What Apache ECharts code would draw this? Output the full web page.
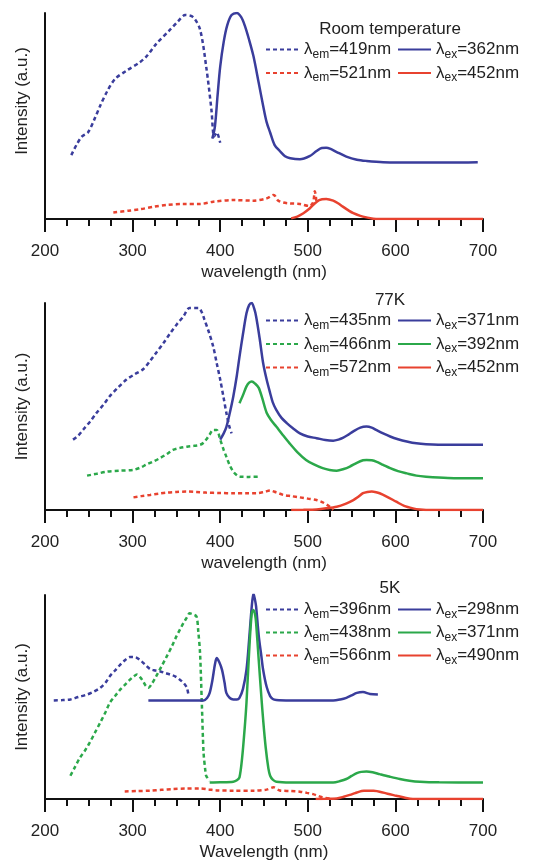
<!DOCTYPE html>
<html>
<head>
<meta charset="utf-8">
<script src="https://cdn.jsdelivr.net/npm/echarts@6/dist/echarts.min.js"></script>
<style>
html, body { margin: 0; padding: 0; background: #fff; }
#chart { width: 548px; height: 862px; }
</style>
</head>
<body>
<div id="chart"></div>
<script>
// x ticks
var xMin = 200, xMax = 700, xStep = 100;

// ---- Room temperature ----
var rtEmBlue = [[230,31],[236,36],[242,40],[249,42],[256,48],[263,55],[271,62],[280,68],[293,72],[308,76],[316,79],[327,85],[343,92],[352,96],[360,99],[369,98],[377,92],[384,74],[390,53],[393,40],[396,42],[400,37]];
var rtExBlue = [[391,39],[394,45],[397,60],[400,74],[404,86],[408,94],[413,99],[419,100],[424,98],[428,94],[433,87],[438,79],[444,66],[449,55],[453,47],[457,42],[462,36],[468,33],[474,30.5],[480,29.5],[491,29],[502,30.5],[510,33],[516,34.5],[521,34.6],[526,34],[533,32.5],[544,30.3],[556,28.8],[567,28.2],[586,27.6],[624,27.4],[660,27.4],[694,27.6]];
var rtEmRed = [[278,3.2],[295,4],[308,4.7],[325,6],[339,6.8],[358,7.3],[377,7.3],[392,8.4],[415,9.2],[438,8.9],[453,10],[461,11.7],[466,9],[472,8],[479,7.6],[491,7.3],[502,6.3],[506,8],[508,13.5],[510,8]];
var rtExRed = [[481,0.3],[488,1.2],[495,2.8],[501,4.7],[506,6.8],[513,9.2],[521,9.7],[529,8.9],[535,7.5],[540,6],[546,4.3],[552,2.8],[560,1.5],[567,0.8],[578,0],[600,0],[700,0]];

// ---- 77K ----
var k77EmBlue = [[232,34],[238,36],[244,39],[252,43],[259,47],[267,51],[274,55],[283,59],[293,63],[302,65.5],[312,68],[320,72],[327,76],[335,80.5],[343,85.5],[351,90],[358,93.5],[365,97.6],[375,97.6],[379,95.5],[382,92],[387,86],[392,79],[396,71],[400,63],[404,54],[407,47],[410,41],[413,37]];
var k77ExBlue = [[400,34],[404,37],[407,40],[411,47],[415,55],[419,65],[422,74],[426,85],[430,95],[433,99],[436,100],[439,97],[441,93.5],[445,83],[449,71],[453,63],[457,56.5],[460,52],[464,48.4],[470,44.5],[476,42],[483,39.5],[491,37],[500,35.5],[510,34.7],[520,33.8],[529,33.5],[535,34],[540,34.8],[546,36.3],[552,38],[560,39.8],[567,40.3],[573,39.8],[578,38.7],[586,37],[594,35.5],[603,34.2],[613,33.1],[624,32.2],[635,31.8],[660,31.5],[700,31.5]];
var k77EmGreen = [[248,16.6],[259,17.5],[270,18.5],[285,19],[301,19.4],[309,20.5],[316,22],[324,23.5],[331,25],[339,27],[346,29],[354,30],[362,30.6],[370,31],[377,31.5],[381,32.5],[384,34],[388,36.5],[392,38.7],[396,38.7],[400,34],[404,29],[407,25.8],[411,21.5],[415,18.5],[419,16.8],[422,16.1],[433,16],[445,16.1]];
var k77ExGreen = [[422,51.6],[426,55.5],[430,59.7],[433,61.5],[436,62.1],[440,61],[444,59],[448,54],[453,47],[458,43.5],[464,40.3],[471,36.5],[479,32.3],[488,28],[498,24.2],[507,22],[517,20.2],[525,19.3],[533,19],[541,19.8],[548,21],[556,22.8],[563,24],[567,24.2],[573,24],[578,23.4],[586,21.8],[594,20.2],[603,18.8],[613,17.7],[624,16.6],[635,16.1],[660,15.5],[700,15.3]];
var k77EmRed = [[301,6.1],[310,6.7],[320,7.3],[330,7.9],[339,8.4],[350,8.7],[362,8.9],[373,8.7],[384,8.4],[400,8.2],[415,8.1],[430,8.1],[441,8.1],[450,8.7],[457,9.4],[464,8.5],[472,7.3],[481,6.7],[491,6.1],[500,5.5],[510,4.8],[518,3.5],[525,1.6],[529,0]];
var k77ExRed = [[481,0],[495,0.1],[510,0.3],[521,0.8],[533,1.6],[543,3],[552,4.8],[558,6.5],[563,8.1],[568,8.7],[573,8.9],[578,8.6],[582,8.1],[590,6.5],[601,4],[610,2],[620,0.8],[628,0.2],[635,0],[700,0]];

// ---- 5K ----
var k5EmBlue = [[210,48.3],[220,48.5],[229,48.8],[238,50],[248,51.2],[256,52.7],[263,54.5],[269,57],[274,60.2],[280,63],[286,65.9],[292,68.3],[297,69.6],[303,69.5],[308,68.3],[314,66],[320,63.7],[326,63],[331,62.6],[337,61.8],[343,61],[349,60],[354,58.5],[359,56.5],[362,54.5],[364,50.4]];
var k5ExBlue = [[318,48.3],[350,48.3],[381,48.3],[385,49.5],[388,52],[391,58],[394,66],[396,69.1],[399,67],[402,63.4],[405,57],[407,52],[411,49.5],[415,48.8],[419,48.8],[422,49.6],[426,54],[430,63.4],[433,78],[436,94.3],[438,100.8],[440,97],[441,94.3],[444,80],[447,70],[449,63.4],[453,55],[457,50.4],[460,49],[464,48.5],[480,48.3],[510,48.3],[529,48.3],[537,48.8],[544,49.6],[550,50.8],[556,52],[563,52.4],[571,51.5],[580,51.2]];
var k5EmGreen = [[229,11.4],[234,15.5],[240,20.3],[246,24],[251,27.6],[257,32.5],[263,37.4],[269,42.5],[274,47.2],[280,50.5],[286,53.7],[292,56.3],[297,58.5],[301,60],[305,61],[309,59.5],[312,57.7],[315,55.5],[318,54.5],[322,56.5],[327,60.2],[333,65],[339,69.9],[345,75],[350,79.7],[354,83],[358,86.2],[362,89],[365,91],[369,90.5],[373,89.4],[375,82],[377,71.5],[379,47.2],[381,22.8],[383,14],[384,11.4],[388,8.9]];
var k5ExGreen = [[388,8.1],[400,8.2],[415,8.5],[419,9.2],[422,10.6],[425,20],[428,35],[430,47.2],[433,72],[436,91],[438,92.7],[440,90],[441,86.2],[444,68],[447,50],[449,39],[452,25],[455,15],[457,11.4],[460,9.5],[464,8.5],[480,8.1],[500,8.1],[529,8.1],[537,8.8],[544,9.8],[550,11.3],[556,12.7],[561,13.3],[567,13.5],[574,13.1],[582,12.2],[593,11],[605,9.8],[616,9],[628,8.5],[650,8.2],[700,8.1]];
var k5EmRed = [[291,3.7],[305,3.9],[320,4.1],[333,4.5],[346,4.9],[360,5.1],[377,5.2],[387,4.7],[396,4.2],[415,4.1],[438,4.1],[453,4.6],[461,5.7],[468,4.2],[480,3.9],[491,3.6],[499,3],[506,2.4],[512,1.5],[517,0.8],[529,0]];
var k5ExRed = [[509,0],[520,0.1],[533,0.3],[541,1.1],[548,2],[554,2.9],[559,3.6],[564,4],[569,4.1],[575,4],[582,3.6],[591,2.6],[601,1.6],[610,0.7],[620,0],[700,0]];

var blue = '#3a3d9c', green = '#2ba84a', red = '#e8422f';
var font = '"Liberation Sans", Arial, sans-serif';

var panels = [
    {
        title: 'Room temperature', xName: 'wavelength (nm)',
        top: 13, height: 206, titleTop: 21, legendTop: 41, gap: 4, yShift: 30,
        em: [['RT em=419nm', rtEmBlue, blue], ['RT em=521nm', rtEmRed, red]],
        ex: [['RT ex=362nm', rtExBlue, blue], ['RT ex=452nm', rtExRed, red]]
    },
    {
        title: '77K', xName: 'wavelength (nm)',
        top: 303, height: 207, titleTop: 292, legendTop: 312, gap: 4, yShift: 0,
        em: [['77K em=435nm', k77EmBlue, blue], ['77K em=466nm', k77EmGreen, green], ['77K em=572nm', k77EmRed, red]],
        ex: [['77K ex=371nm', k77ExBlue, blue], ['77K ex=392nm', k77ExGreen, green], ['77K ex=452nm', k77ExRed, red]]
    },
    {
        title: '5K', xName: 'Wavelength (nm)',
        top: 595, height: 205, titleTop: 580, legendTop: 601, gap: 3.5, yShift: 0,
        em: [['5K em=396nm', k5EmBlue, blue], ['5K em=438nm', k5EmGreen, green], ['5K em=566nm', k5EmRed, red]],
        ex: [['5K ex=298nm', k5ExBlue, blue], ['5K ex=371nm', k5ExGreen, green], ['5K ex=490nm', k5ExRed, red]]
    }
];

function legendLabel(name) {
    var p = name.split(' ')[1];
    return '{l|λ}{s|' + p.slice(0, 2) + '}{t|' + p.slice(2) + '}';
}

var legendText = {
    fontSize: 17, color: '#222', fontFamily: font,
    rich: {
        l: { fontSize: 17, lineHeight: 22, color: '#222', fontFamily: font },
        s: { fontSize: 12, lineHeight: 12, verticalAlign: 'bottom', color: '#222', fontFamily: font },
        t: { fontSize: 17, lineHeight: 22, color: '#222', fontFamily: font }
    }
};

var option = {
    animation: false,
    backgroundColor: '#fff',
    title: [], grid: [], xAxis: [], yAxis: [], legend: [], series: []
};

panels.forEach(function (p, i) {
    option.title.push({
        text: p.title, left: 390, top: p.titleTop, textAlign: 'center', padding: 0,
        textStyle: { fontSize: 17, fontWeight: 'normal', color: '#222', fontFamily: font }
    });
    option.grid.push({ left: 45, width: 438, top: p.top, height: p.height });
    option.xAxis.push({
        type: 'value', gridIndex: i, min: xMin, max: xMax, interval: xStep,
        name: p.xName, nameLocation: 'middle', nameGap: 45,
        nameTextStyle: { fontSize: 17, color: '#222', fontFamily: font },
        axisLine: { lineStyle: { color: '#111', width: 2 } },
        axisTick: { length: 13, lineStyle: { color: '#111', width: 2 } },
        minorTick: { show: true, splitNumber: 4, length: 7, lineStyle: { color: '#111', width: 2 } },
        splitLine: { show: false },
        axisLabel: { margin: 24, fontSize: 17, color: '#222', fontFamily: font }
    });
    option.yAxis.push({
        type: 'value', gridIndex: i, min: 0, max: 100,
        name: 'Intensity (a.u.)', nameLocation: 'middle', nameGap: 14,
        nameTextStyle: { fontSize: 17, color: '#222', fontFamily: font, padding: [0, 0, 0, p.yShift] },
        axisLine: { show: true, lineStyle: { color: '#111', width: 2 } },
        axisTick: { show: false }, axisLabel: { show: false }, splitLine: { show: false }
    });
    [['em', 265, 'dashed'], ['ex', 397, 'solid']].forEach(function (col) {
        var list = p[col[0]];
        option.legend.push({
            orient: 'vertical', left: col[1], top: p.legendTop, padding: 0,
            itemWidth: 33, itemHeight: 12, itemGap: p.gap, selectedMode: false,
            itemStyle: { opacity: 0 },
            data: list.map(function (s) { return s[0]; }),
            formatter: legendLabel, textStyle: legendText
        });
        list.forEach(function (s) {
            option.series.push({
                name: s[0], type: 'line', xAxisIndex: i, yAxisIndex: i,
                data: s[1], symbol: 'none', smooth: 0.3, silent: true,
                lineStyle: { color: s[2], width: 2.5, type: col[2] === 'dashed' ? [4, 3] : 'solid' },
                itemStyle: { color: s[2] }
            });
        });
    });
});

var chart = echarts.init(document.getElementById('chart'), null, { renderer: 'canvas' });
chart.setOption(option);
</script>
</body>
</html>
